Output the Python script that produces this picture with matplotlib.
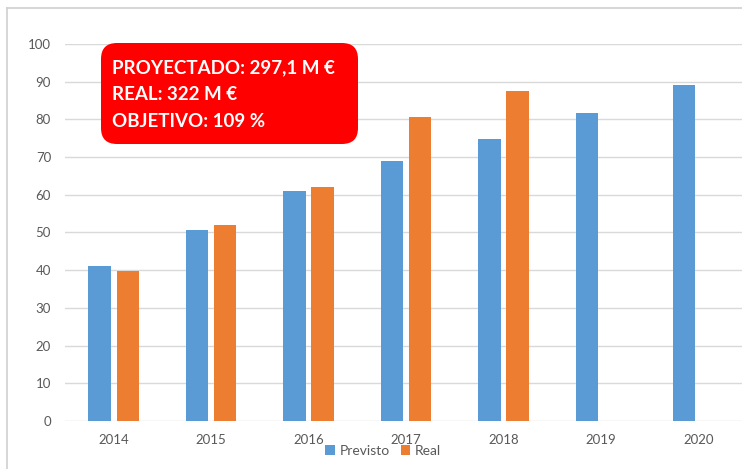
import matplotlib.pyplot as plt
import numpy as np
from matplotlib.lines import Line2D
from matplotlib.patches import FancyBboxPatch

years = ["2014", "2015", "2016", "2017", "2018", "2019", "2020"]
previsto = [41.1, 50.7, 61.0, 69.0, 74.8, 81.6, 89.0]
real = [39.8, 52.0, 62.0, 80.6, 87.5]
info_lines = ["PROYECTADO: 297,1 M €", "REAL: 322 M €", "OBJETIVO: 109 %"]

blue = "#5B9BD5"
orange = "#ED7D31"
gray_text = "#595959"
grid_gray = "#D9D9D9"

plt.rcParams["font.family"] = ["Lato", "DejaVu Sans"]

fig = plt.figure(figsize=(7.42, 4.69), dpi=100)
ax = fig.add_axes([65 / 742, 1 - 421 / 469, 682 / 742, 377 / 469])

x = np.arange(len(years))
width = 0.23
ax.bar(x - 0.145, previsto, width, color=blue, label="Previsto", zorder=3)
ax.bar(x[: len(real)] + 0.145, real, width, color=orange, label="Real", zorder=3)

ax.set_xlim(-0.5, len(years) - 0.5)
ax.set_ylim(0, 100)
ax.set_yticks(range(0, 101, 10))
ax.set_xticks(x)
ax.set_xticklabels(years)
ax.yaxis.grid(True, color=grid_gray, linewidth=1, zorder=0)
for spine in ax.spines.values():
    spine.set_visible(False)
ax.tick_params(axis="both", length=0, labelsize=9.5, colors=gray_text)
ax.tick_params(axis="x", pad=9)
ax.tick_params(axis="y", pad=10)

# outer frame (only left and top edge visible in the crop)
fig.add_artist(Line2D([7 / 742, 7 / 742], [0, 1 - 8 / 469], color="#D0D0D0", linewidth=1.2))
fig.add_artist(Line2D([7 / 742, 1], [1 - 8 / 469, 1 - 8 / 469], color="#D0D0D0", linewidth=1.2))

# red info box
box = FancyBboxPatch((1.01, 3.25), 2.57, 1.01,
                     boxstyle="round,pad=0,rounding_size=0.16",
                     transform=fig.dpi_scale_trans, facecolor="#FF0000",
                     edgecolor="none", zorder=5)
fig.add_artist(box)
for line, y_px in zip(info_lines, [68, 94.5, 121]):
    fig.text(1.12, (469 - y_px) / 100, line, transform=fig.dpi_scale_trans,
             color="white", fontsize=13.5, fontweight="bold", va="center",
             ha="left", zorder=6)

fig.legend(loc="center", bbox_to_anchor=(383 / 742, 1 - 451 / 469), ncol=2,
           frameon=False, fontsize=10, handlelength=0.7, handleheight=0.7,
           handletextpad=0.3, columnspacing=0.8, labelcolor=gray_text,
           borderpad=0)

fig.savefig("out.png", dpi=100)
